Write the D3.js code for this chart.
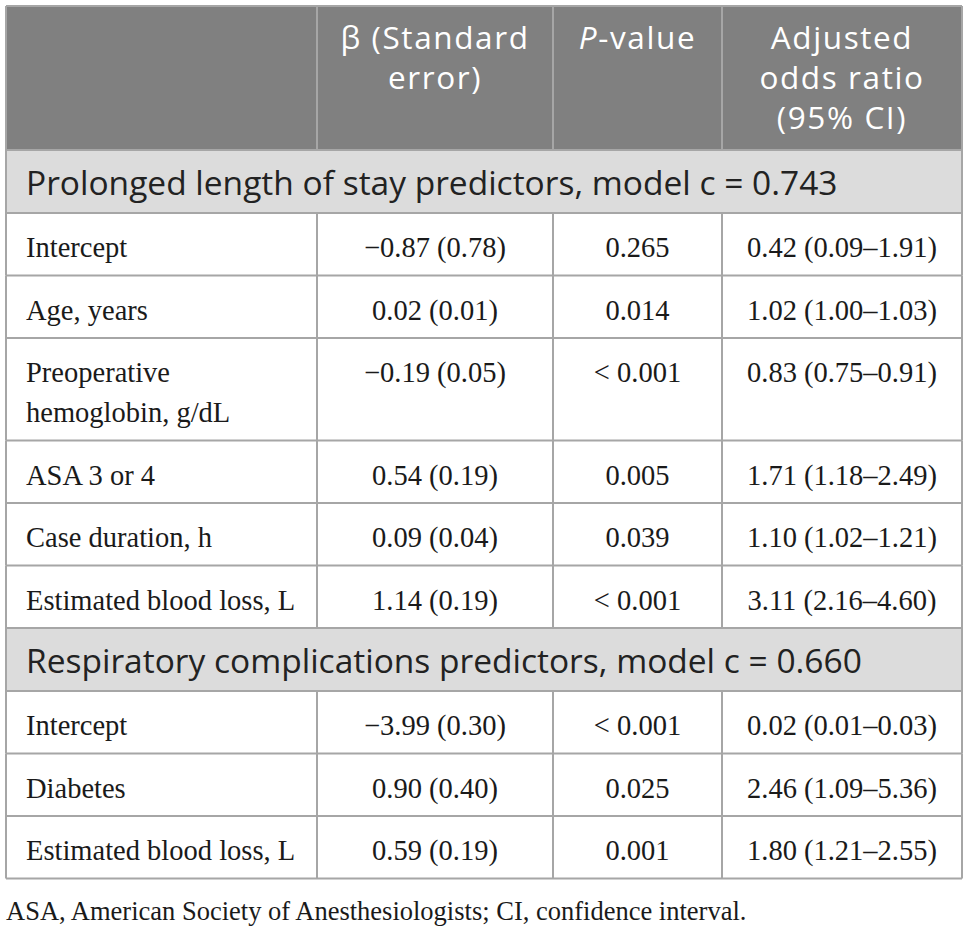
<!DOCTYPE html>
<html>
<head>
<meta charset="utf-8">
<script src="https://cdn.jsdelivr.net/npm/d3@7"></script>
<style>
  body { margin: 0; background: #fff; }
  svg { display: block; }
</style>
</head>
<body>
<div id="container"></div>
<script>
/* DATA */
const headers = [
  [""],
  ["\u03B2 (Standard", "error)"],
  ["P-value"],
  ["Adjusted", "odds ratio", "(95% CI)"]
]

const sections = [
  "Prolonged length of stay predictors, model c = 0.743",
  "Respiratory complications predictors, model c = 0.660"
]

const predictors1 = [["Intercept"], ["Age, years"], ["Preoperative", "hemoglobin, g/dL"], ["ASA 3 or 4"], ["Case duration, h"], ["Estimated blood loss, L"]]
const beta1 = ["\u22120.87 (0.78)", "0.02 (0.01)", "\u22120.19 (0.05)", "0.54 (0.19)", "0.09 (0.04)", "1.14 (0.19)"]
const pval1 = ["0.265", "0.014", "< 0.001", "0.005", "0.039", "< 0.001"]
const or1 = ["0.42 (0.09\u20131.91)", "1.02 (1.00\u20131.03)", "0.83 (0.75\u20130.91)", "1.71 (1.18\u20132.49)", "1.10 (1.02\u20131.21)", "3.11 (2.16\u20134.60)"]

const predictors2 = [["Intercept"], ["Diabetes"], ["Estimated blood loss, L"]]
const beta2 = ["\u22123.99 (0.30)", "0.90 (0.40)", "0.59 (0.19)"]
const pval2 = ["< 0.001", "0.025", "0.001"]
const or2 = ["0.02 (0.01\u20130.03)", "2.46 (1.09\u20135.36)", "1.80 (1.21\u20132.55)"]

const footnote = "ASA, American Society of Anesthesiologists; CI, confidence interval."

/* LAYOUT */
const width = 968, height = 932
const tableTop = 6
const colEdges = [6, 317, 553, 722, 962]
const headerH = 144, sectionH = 63, lineH = 40, rowPad = 22.5
const sans = "'Open Sans', 'Noto Sans', sans-serif"
const serif = "'Liberation Serif', 'Times New Roman', serif"
const border = "#a6a6a6"

// build rows from the arrays
const rows = []
rows.push({ type: "header", cells: headers })
function addSection(title, preds, beta, pval, or) {
  rows.push({ type: "section", title })
  preds.forEach((p, i) => rows.push({ type: "data", cells: [p, [beta[i]], [pval[i]], [or[i]]] }))
}
addSection(sections[0], predictors1, beta1, pval1, or1)
addSection(sections[1], predictors2, beta2, pval2, or2)

let yPos = tableTop
rows.forEach(r => {
  r.y = yPos
  if (r.type === "header") r.h = headerH
  else if (r.type === "section") r.h = sectionH
  else r.h = d3.max(r.cells, c => c.length) * lineH + rowPad
  yPos += r.h
})
const tableBottom = yPos

const x = d3.scaleOrdinal().domain(d3.range(4)).range(colEdges.slice(0, 4))
const xEnd = d3.scaleOrdinal().domain(d3.range(4)).range(colEdges.slice(1))

const svg = d3.select("#container")
  .append("svg")
  .attr("width", width)
  .attr("height", height)

// backgrounds
svg.selectAll(".bg")
  .data(rows.filter(r => r.type !== "data"))
  .join("rect")
  .attr("class", "bg")
  .attr("x", colEdges[0])
  .attr("y", d => d.y)
  .attr("width", colEdges[4] - colEdges[0])
  .attr("height", d => d.h)
  .attr("fill", d => d.type === "header" ? "#808080" : "#dcdcdc")

// horizontal lines
svg.selectAll(".hline")
  .data(rows.map(r => r.y).concat([tableBottom]))
  .join("line")
  .attr("class", "hline")
  .attr("x1", colEdges[0])
  .attr("x2", colEdges[4])
  .attr("y1", d => d)
  .attr("y2", d => d)
  .attr("stroke", border)
  .attr("stroke-width", 2)

// vertical lines (inner ones skip section rows)
const vsegs = []
rows.forEach(r => {
  colEdges.forEach((cx, i) => {
    if (r.type === "section" && i > 0 && i < 4) return
    vsegs.push({ x: cx, y1: r.y, y2: r.y + r.h })
  })
})
svg.selectAll(".vline")
  .data(vsegs)
  .join("line")
  .attr("class", "vline")
  .attr("x1", d => d.x)
  .attr("x2", d => d.x)
  .attr("y1", d => d.y1)
  .attr("y2", d => d.y2)
  .attr("stroke", border)
  .attr("stroke-width", 2)

// header text
const head = rows[0]
head.cells.forEach((lines, ci) => {
  const cx = (x(ci) + xEnd(ci)) / 2
  lines.forEach((t, li) => {
    const txt = svg.append("text")
      .attr("x", cx)
      .attr("y", head.y + 43 + li * lineH)
      .attr("text-anchor", "middle")
      .attr("fill", "white")
      .attr("font-family", sans)
      .attr("font-size", 31.5)
      .attr("letter-spacing", 1.6)
    if (t === "P-value") {
      txt.append("tspan").attr("font-style", "italic").text("P")
      txt.append("tspan").text("-value")
    } else txt.text(t)
  })
})

// section titles
rows.filter(r => r.type === "section").forEach(r => {
  svg.append("text")
    .attr("x", colEdges[0] + 20)
    .attr("y", r.y + 45)
    .attr("fill", "#222")
    .attr("font-family", sans)
    .attr("font-size", 33.5)
    .text(r.title)
})

// data cells
rows.filter(r => r.type === "data").forEach(r => {
  r.cells.forEach((lines, ci) => {
    lines.forEach((t, li) => {
      svg.append("text")
        .attr("x", ci === 0 ? x(ci) + 20 : (x(ci) + xEnd(ci)) / 2)
        .attr("y", r.y + 44 + li * lineH)
        .attr("text-anchor", ci === 0 ? "start" : "middle")
        .attr("fill", "#1a1a1a")
        .attr("font-family", serif)
        .attr("font-size", 28.5)
        .text(t)
    })
  })
})

// footnote
svg.append("text")
  .attr("x", 6)
  .attr("y", tableBottom + 41)
  .attr("fill", "#1a1a1a")
  .attr("font-family", serif)
  .attr("font-size", 26.5)
  .text(footnote)
</script>
</body>
</html>
